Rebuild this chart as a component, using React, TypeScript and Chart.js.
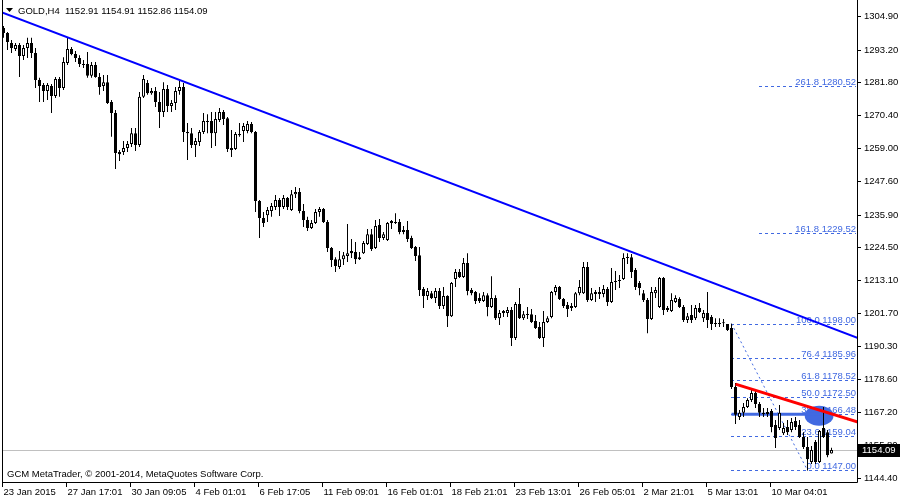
import React, { useEffect, useRef } from "react";
import { Chart, registerables } from "chart.js";
Chart.register(...registerables);

const symbolTitle = "GOLD,H4";
const lastQuote = ["1152.91", "1154.91", "1152.86", "1154.09"];
const bidPrice = 1154.09;
const copyrightText = "GCM MetaTrader, © 2001-2014, MetaQuotes Software Corp.";

const openP = [
  1300.7, 1299.0, 1295.5, 1293.4, 1294.8, 1291.0, 1293.8, 1295.5, 1292.0, 1282.7,
  1280.9, 1278.8, 1280.6, 1277.1, 1283.0, 1279.9, 1288.6, 1293.4, 1291.7, 1290.3,
  1287.9, 1288.2, 1284.1, 1287.9, 1283.7, 1280.6, 1281.9, 1275.0, 1271.2, 1257.6,
  1257.6, 1259.0, 1260.4, 1264.2, 1260.1, 1276.8, 1281.6, 1278.1, 1278.8, 1275.0,
  1271.5, 1279.5, 1273.6, 1274.7, 1278.8, 1280.2, 1264.6, 1264.2, 1260.1, 1261.1,
  1264.6, 1268.4, 1268.4, 1264.2, 1268.8, 1271.5, 1269.4, 1259.0, 1258.7, 1263.9,
  1264.9, 1264.9, 1267.4, 1264.6, 1240.6, 1234.7, 1235.7, 1237.1, 1238.5, 1241.0,
  1238.5, 1241.7, 1237.5, 1243.0, 1243.7, 1237.1, 1234.0, 1231.2, 1233.0, 1236.8,
  1237.8, 1233.3, 1224.3, 1220.4, 1217.7, 1220.4, 1221.5, 1223.2, 1222.9, 1221.1,
  1222.5, 1225.7, 1229.1, 1224.3, 1232.3, 1227.8, 1227.1, 1233.0, 1233.3, 1233.3,
  1230.5, 1230.5, 1227.8, 1224.6, 1221.8, 1210.0, 1207.6, 1208.6, 1206.9, 1209.3,
  1204.1, 1207.6, 1200.6, 1213.5, 1215.9, 1214.2, 1219.1, 1209.7, 1209.0, 1206.9,
  1205.9, 1207.9, 1203.8, 1206.9, 1199.9, 1202.4, 1201.7, 1202.7, 1193.0, 1204.8,
  1199.9, 1201.3, 1201.3, 1198.9, 1196.8, 1193.0, 1198.6, 1200.3, 1209.0, 1210.7,
  1206.6, 1204.5, 1203.4, 1203.8, 1208.6, 1208.6, 1217.7, 1206.2, 1209.0, 1209.0,
  1208.3, 1210.0, 1205.5, 1212.5, 1212.8, 1213.5, 1220.8, 1221.1, 1216.6, 1212.1,
  1208.6, 1206.2, 1199.6, 1208.6, 1203.8, 1213.9, 1203.4, 1202.4, 1205.5, 1206.6,
  1203.8, 1199.3, 1201.0, 1199.9, 1203.4, 1199.9, 1201.7, 1200.3, 1198.2, 1197.9,
  1198.2, 1197.9, 1196.5, 1176.0, 1165.6, 1167.0, 1169.0, 1171.5, 1173.9, 1170.1,
  1167.0, 1166.6, 1167.6, 1162.8, 1161.7, 1159.9, 1162.1, 1161.0, 1164.2, 1162.8,
  1158.6, 1155.1, 1149.9, 1156.9, 1149.9, 1161.7, 1160.3, 1152.91,
];

const highP = [
  1301.4, 1299.3, 1296.6, 1295.5, 1295.5, 1294.8, 1297.3, 1297.3, 1293.8, 1283.4,
  1281.6, 1281.6, 1281.3, 1283.7, 1283.7, 1290.6, 1297.6, 1294.1, 1292.7, 1291.3,
  1289.6, 1292.4, 1288.9, 1288.9, 1285.1, 1284.4, 1284.4, 1275.7, 1272.2, 1258.3,
  1261.5, 1261.5, 1266.0, 1266.0, 1278.5, 1284.4, 1282.7, 1279.9, 1280.2, 1278.5,
  1281.9, 1280.9, 1275.7, 1280.2, 1282.3, 1281.6, 1267.7, 1266.0, 1262.5, 1265.3,
  1271.2, 1270.8, 1271.5, 1271.5, 1272.9, 1272.2, 1269.8, 1265.3, 1264.6, 1267.7,
  1267.7, 1268.4, 1268.1, 1264.9, 1241.0, 1236.8, 1238.5, 1239.9, 1242.7, 1241.7,
  1242.7, 1242.0, 1244.4, 1245.5, 1245.1, 1239.6, 1235.1, 1234.0, 1237.8, 1238.5,
  1238.2, 1234.0, 1224.6, 1221.1, 1223.2, 1222.9, 1232.6, 1227.4, 1226.4, 1222.9,
  1226.7, 1230.9, 1230.9, 1234.0, 1234.4, 1229.8, 1233.3, 1234.0, 1236.4, 1234.4,
  1231.9, 1233.7, 1228.5, 1225.0, 1224.6, 1210.7, 1210.4, 1209.3, 1210.4, 1210.4,
  1210.7, 1207.9, 1212.5, 1217.0, 1217.0, 1220.8, 1222.5, 1210.4, 1209.3, 1208.6,
  1209.0, 1208.6, 1214.5, 1207.9, 1202.7, 1202.7, 1203.8, 1203.8, 1205.5, 1210.4,
  1202.4, 1203.8, 1203.1, 1201.0, 1198.6, 1202.4, 1200.6, 1209.3, 1211.4, 1211.1,
  1206.9, 1205.5, 1205.2, 1209.0, 1213.2, 1219.4, 1219.4, 1210.4, 1209.7, 1210.7,
  1211.4, 1210.7, 1217.3, 1216.3, 1214.9, 1222.5, 1222.5, 1222.2, 1217.3, 1212.8,
  1209.7, 1206.9, 1210.7, 1210.7, 1214.2, 1214.2, 1204.1, 1208.6, 1207.9, 1207.2,
  1204.5, 1201.7, 1204.5, 1204.5, 1205.2, 1202.7, 1209.0, 1201.0, 1199.9, 1199.9,
  1199.6, 1197.9, 1198.0, 1177.4, 1168.0, 1170.4, 1172.1, 1174.9, 1175.3, 1170.8,
  1168.7, 1168.7, 1168.3, 1164.5, 1169.7, 1163.5, 1164.5, 1165.2, 1165.6, 1164.5,
  1160.3, 1158.6, 1155.5, 1157.6, 1161.0, 1169.0, 1161.0, 1154.91,
];

const lowP = [
  1297.3, 1293.1, 1292.0, 1292.7, 1283.7, 1289.6, 1290.3, 1290.3, 1279.9, 1275.0,
  1275.0, 1275.7, 1271.2, 1276.4, 1276.8, 1279.2, 1287.9, 1291.3, 1288.9, 1287.2,
  1286.8, 1283.4, 1283.4, 1283.4, 1277.5, 1278.8, 1274.3, 1262.9, 1251.7, 1254.5,
  1256.6, 1257.6, 1259.4, 1258.0, 1259.4, 1276.4, 1277.5, 1277.5, 1273.3, 1266.0,
  1269.8, 1271.5, 1271.5, 1272.2, 1277.5, 1261.1, 1254.9, 1259.0, 1255.9, 1259.7,
  1263.9, 1264.2, 1259.0, 1259.7, 1268.1, 1267.0, 1257.6, 1255.9, 1258.3, 1262.9,
  1261.1, 1264.2, 1264.2, 1236.8, 1227.8, 1231.6, 1233.3, 1235.1, 1237.5, 1235.4,
  1237.8, 1237.5, 1237.1, 1241.7, 1236.4, 1231.6, 1230.2, 1230.9, 1232.6, 1235.1,
  1233.0, 1222.9, 1217.7, 1215.9, 1217.0, 1218.4, 1219.4, 1220.8, 1218.7, 1220.1,
  1222.2, 1225.3, 1223.2, 1223.9, 1226.4, 1227.1, 1226.7, 1230.9, 1232.6, 1229.1,
  1229.1, 1226.4, 1223.9, 1219.8, 1207.6, 1203.4, 1206.2, 1206.6, 1205.2, 1203.1,
  1203.1, 1196.8, 1200.3, 1210.7, 1213.9, 1213.9, 1207.9, 1207.9, 1204.8, 1205.2,
  1205.5, 1200.6, 1203.4, 1199.3, 1197.5, 1200.3, 1200.3, 1190.2, 1192.3, 1199.6,
  1199.3, 1199.6, 1198.2, 1196.1, 1192.7, 1189.9, 1198.2, 1199.9, 1207.9, 1206.2,
  1203.4, 1200.3, 1202.4, 1203.4, 1207.9, 1208.3, 1205.5, 1205.9, 1205.5, 1206.6,
  1207.2, 1204.1, 1205.2, 1209.7, 1210.4, 1213.2, 1218.7, 1213.9, 1209.7, 1207.9,
  1205.5, 1194.7, 1199.3, 1206.9, 1203.4, 1201.0, 1202.0, 1202.0, 1205.2, 1203.4,
  1198.6, 1198.2, 1198.2, 1199.3, 1201.7, 1198.6, 1196.5, 1195.8, 1196.8, 1196.8,
  1196.8, 1195.4, 1175.3, 1163.1, 1164.5, 1165.6, 1168.7, 1170.8, 1168.7, 1165.6,
  1165.6, 1165.6, 1160.3, 1154.8, 1161.0, 1159.3, 1159.3, 1160.3, 1161.0, 1158.3,
  1154.4, 1147.0, 1149.2, 1149.2, 1149.6, 1158.3, 1151.6, 1152.86,
];

const closeP = [
  1299.0, 1295.9, 1293.8, 1294.8, 1291.0, 1293.8, 1295.5, 1292.0, 1282.7, 1280.6,
  1278.8, 1280.9, 1277.1, 1283.0, 1279.9, 1288.9, 1293.4, 1291.7, 1290.3, 1288.2,
  1288.2, 1284.1, 1287.9, 1283.7, 1280.2, 1281.9, 1274.7, 1271.2, 1257.3, 1256.9,
  1259.0, 1260.4, 1264.2, 1260.1, 1276.8, 1283.0, 1278.1, 1278.8, 1275.0, 1271.5,
  1279.5, 1273.6, 1274.7, 1278.8, 1280.2, 1264.6, 1264.2, 1260.1, 1261.5, 1264.6,
  1268.4, 1268.1, 1264.2, 1269.1, 1271.5, 1269.1, 1258.7, 1258.3, 1263.9, 1263.5,
  1266.7, 1267.4, 1264.6, 1240.6, 1234.7, 1233.0, 1237.5, 1238.9, 1241.0, 1238.5,
  1241.7, 1238.5, 1243.0, 1243.7, 1237.1, 1234.0, 1231.2, 1233.0, 1236.8, 1237.8,
  1233.3, 1224.3, 1220.1, 1218.0, 1220.4, 1221.8, 1222.5, 1222.5, 1220.4, 1220.4,
  1226.0, 1229.1, 1223.9, 1231.9, 1227.8, 1229.1, 1233.0, 1233.7, 1233.0, 1229.8,
  1229.8, 1227.4, 1224.3, 1221.5, 1209.7, 1207.6, 1209.3, 1206.9, 1209.3, 1204.1,
  1207.6, 1200.6, 1212.1, 1215.9, 1214.2, 1219.1, 1209.3, 1208.6, 1205.9, 1205.9,
  1207.9, 1203.8, 1206.9, 1199.9, 1201.7, 1201.7, 1202.7, 1193.0, 1204.8, 1199.9,
  1201.3, 1201.0, 1198.6, 1196.5, 1193.0, 1198.6, 1199.9, 1209.0, 1210.7, 1206.6,
  1204.1, 1203.1, 1204.1, 1208.6, 1210.7, 1217.7, 1206.2, 1208.6, 1208.3, 1208.3,
  1210.0, 1205.5, 1212.5, 1212.8, 1213.2, 1220.8, 1221.1, 1215.9, 1210.7, 1210.4,
  1206.2, 1199.6, 1209.0, 1209.7, 1213.9, 1202.7, 1202.7, 1206.2, 1206.9, 1203.8,
  1199.3, 1200.6, 1199.3, 1203.4, 1202.0, 1201.7, 1199.3, 1197.9, 1197.9, 1198.2,
  1198.1, 1195.8, 1176.0, 1166.3, 1167.0, 1169.0, 1171.5, 1173.9, 1170.1, 1167.0,
  1166.6, 1167.3, 1162.1, 1158.3, 1167.0, 1161.7, 1160.3, 1163.8, 1162.1, 1158.6,
  1155.1, 1150.9, 1154.1, 1149.9, 1160.7, 1158.6, 1152.3, 1154.09,
];

const timeLabels = [
  "23 Jan 2015", "27 Jan 17:01", "30 Jan 09:05", "4 Feb 01:01", "6 Feb 17:05",
  "11 Feb 09:01", "16 Feb 01:01", "18 Feb 21:01", "23 Feb 13:01", "26 Feb 05:01",
  "2 Mar 21:01", "5 Mar 13:01", "10 Mar 04:01",
];
const barsPerTimeLabel = 16;

const priceTicks = [
  1304.9, 1293.2, 1281.8, 1270.4, 1259.0, 1247.6, 1235.9, 1224.5, 1213.1,
  1201.7, 1190.3, 1178.6, 1167.2, 1155.8, 1144.4,
];

const fibLevels = ["0.0", "23.6", "38.2", "50.0", "61.8", "76.4", "100.0", "161.8", "261.8"];
const fibPrices = [1147.0, 1159.04, 1166.48, 1172.5, 1178.52, 1185.96, 1198.0, 1229.52, 1280.52];
const fibStartBar = [182, 182, 182, 182, 182, 182, 182, 189, 189];
const fibAnchorBars = [182, 201];
const fibAnchorPrices = [1198.0, 1147.0];

const blueTrendBars = [-0.375, 213.625];
const blueTrendPrices = [1306.1, 1193.0];
const redTrendBars = [183, 213.625];
const redTrendPrices = [1177.0, 1163.8];
const supportBars = [182, 208];
const supportPrices = [1166.48, 1166.48];
const ellipseCenterBar = 203.9;
const ellipseCenterPrice = 1166.0;
const ellipseHalfBars = 3.6;
const ellipseHalfPrice = 3.5;

const xMin = -0.375;
const xMax = 213.625;
const yMin = 1142.97;
const yMax = 1310.46;

const FONT = '9.5px "Liberation Sans", Arial, sans-serif';
const FIB_COLOR = "#4169E1";

export default function App() {
  const ref = useRef<HTMLCanvasElement | null>(null);

  useEffect(() => {
    const canvas = ref.current;
    if (!canvas) return;
    const n = closeP.length;
    const wicks = [];
    const bodies = [];
    const bodyColors: string[] = [];
    for (let i = 0; i < n; i++) {
      wicks.push({ x: i, y: [lowP[i], highP[i]] });
      bodies.push({ x: i, y: [openP[i], closeP[i]] });
      bodyColors.push(closeP[i] > openP[i] ? "#ffffff" : "#000000");
    }

    const overlay = {
      id: "mtOverlay",
      beforeDraw(chart: any) {
        const ctx = chart.ctx;
        ctx.save();
        ctx.fillStyle = "#ffffff";
        ctx.fillRect(0, 0, chart.width, chart.height);
        ctx.restore();
      },
      beforeDatasetsDraw(chart: any) {
        const { ctx, chartArea: a, scales } = chart;
        const xs = scales.x;
        const ys = scales.y;
        ctx.save();
        ctx.beginPath();
        ctx.rect(a.left, a.top, a.right - a.left, a.bottom - a.top);
        ctx.clip();
        const by = Math.round(ys.getPixelForValue(bidPrice)) + 0.5;
        ctx.strokeStyle = "#c0c0c0";
        ctx.lineWidth = 1;
        ctx.beginPath();
        ctx.moveTo(a.left, by);
        ctx.lineTo(a.right, by);
        ctx.stroke();
        ctx.strokeStyle = FIB_COLOR;
        ctx.setLineDash([3, 3]);
        for (let i = 0; i < fibPrices.length; i++) {
          const py = Math.round(ys.getPixelForValue(fibPrices[i])) + 0.5;
          const x0 = Math.floor(xs.getPixelForValue(fibStartBar[i]));
          ctx.beginPath();
          ctx.moveTo(x0, py);
          ctx.lineTo(a.right - 2, py);
          ctx.stroke();
        }
        ctx.setLineDash([2, 3]);
        ctx.beginPath();
        ctx.moveTo(xs.getPixelForValue(fibAnchorBars[0]), ys.getPixelForValue(fibAnchorPrices[0]));
        ctx.lineTo(xs.getPixelForValue(fibAnchorBars[1]), ys.getPixelForValue(fibAnchorPrices[1]));
        ctx.stroke();
        ctx.setLineDash([]);
        ctx.font = FONT;
        ctx.fillStyle = FIB_COLOR;
        ctx.textAlign = "right";
        ctx.textBaseline = "alphabetic";
        for (let i = 0; i < fibPrices.length; i++) {
          const py = Math.round(ys.getPixelForValue(fibPrices[i]));
          ctx.fillText(fibLevels[i] + " " + fibPrices[i].toFixed(2), a.right - 2, py - 1);
        }
        const cx = xs.getPixelForValue(ellipseCenterBar);
        const cy = ys.getPixelForValue(ellipseCenterPrice);
        const rx = xs.getPixelForValue(ellipseCenterBar + ellipseHalfBars) - cx;
        const ry = cy - ys.getPixelForValue(ellipseCenterPrice + ellipseHalfPrice);
        ctx.fillStyle = FIB_COLOR;
        ctx.beginPath();
        ctx.ellipse(cx, cy, rx, ry, 0, 0, Math.PI * 2);
        ctx.fill();
        ctx.restore();
      },
      afterDraw(chart: any) {
        const { ctx, chartArea: a, scales } = chart;
        const xs = scales.x;
        const ys = scales.y;
        ctx.save();
        ctx.strokeStyle = "#000000";
        ctx.lineWidth = 1;
        ctx.beginPath();
        ctx.moveTo(a.left + 0.5, a.top);
        ctx.lineTo(a.left + 0.5, a.bottom + 0.5);
        ctx.lineTo(a.right - 0.5, a.bottom + 0.5);
        ctx.lineTo(a.right - 0.5, a.top);
        ctx.stroke();
        ctx.font = FONT;
        ctx.fillStyle = "#000000";
        ctx.textAlign = "left";
        ctx.textBaseline = "middle";
        for (const p of priceTicks) {
          const py = Math.round(ys.getPixelForValue(p)) + 0.5;
          ctx.beginPath();
          ctx.moveTo(a.right, py);
          ctx.lineTo(a.right + 3, py);
          ctx.stroke();
          ctx.fillText(p.toFixed(2), a.right + 6, py);
        }
        ctx.textBaseline = "alphabetic";
        for (let j = 0; j < timeLabels.length; j++) {
          const px = xs.getPixelForValue(j * barsPerTimeLabel);
          const tx = Math.floor(px) - 1 + 0.5;
          ctx.beginPath();
          ctx.moveTo(tx, a.bottom);
          ctx.lineTo(tx, a.bottom + 5);
          ctx.stroke();
          ctx.fillText(timeLabels[j], tx + 1, a.bottom + 13);
        }
        const by = Math.round(ys.getPixelForValue(bidPrice));
        ctx.fillStyle = "#000000";
        ctx.fillRect(a.right, by - 6, chart.width - a.right, 13);
        ctx.fillStyle = "#ffffff";
        ctx.textBaseline = "middle";
        ctx.fillText(bidPrice.toFixed(2), a.right + 4, by + 0.5);
        ctx.fillStyle = "#000000";
        ctx.beginPath();
        ctx.moveTo(6, 8);
        ctx.lineTo(13, 8);
        ctx.lineTo(9.5, 12);
        ctx.closePath();
        ctx.fill();
        ctx.textBaseline = "alphabetic";
        ctx.fillText(symbolTitle + "  " + lastQuote.join(" "), 18, 14);
        ctx.fillText(copyrightText, 7, 477);
        ctx.restore();
      },
    };

    const chart = new Chart(canvas, {
      type: "bar",
      data: {
        datasets: [
          {
            type: "line",
            data: [
              { x: blueTrendBars[0], y: blueTrendPrices[0] },
              { x: blueTrendBars[1], y: blueTrendPrices[1] },
            ],
            borderColor: "#0000ff",
            borderWidth: 2,
            pointRadius: 0,
            order: 0,
          },
          {
            type: "line",
            data: [
              { x: redTrendBars[0], y: redTrendPrices[0] },
              { x: redTrendBars[1], y: redTrendPrices[1] },
            ],
            borderColor: "#ff0000",
            borderWidth: 3,
            pointRadius: 0,
            order: 0,
          },
          {
            type: "line",
            data: [
              { x: supportBars[0], y: supportPrices[0] },
              { x: supportBars[1], y: supportPrices[1] },
            ],
            borderColor: FIB_COLOR,
            borderWidth: 3,
            pointRadius: 0,
            order: 3,
          },
          {
            type: "bar",
            data: bodies,
            backgroundColor: bodyColors,
            borderColor: "#000000",
            borderWidth: 1,
            borderSkipped: false,
            barThickness: 3,
            minBarLength: 1,
            grouped: false,
            inflateAmount: 0,
            order: 1,
          },
          {
            type: "bar",
            data: wicks,
            backgroundColor: "#000000",
            borderWidth: 0,
            barThickness: 1,
            grouped: false,
            inflateAmount: 0,
            order: 2,
          },
        ] as any,
      },
      options: {
        responsive: false,
        animation: false,
        events: [],
        layout: { padding: { left: 2, right: 42, top: 0, bottom: 18 } },
        plugins: { legend: { display: false }, tooltip: { enabled: false } },
        scales: {
          x: { type: "linear", min: xMin, max: xMax, display: false, offset: false },
          y: { type: "linear", min: yMin, max: yMax, display: false },
        },
      } as any,
      plugins: [overlay],
    });
    return () => chart.destroy();
  }, []);

  return (
    <div style={{ position: "fixed", left: 0, top: 0, width: 900, height: 500, background: "#fff" }}>
      <canvas ref={ref} width={900} height={500} style={{ width: 900, height: 500, display: "block" }} />
    </div>
  );
}
